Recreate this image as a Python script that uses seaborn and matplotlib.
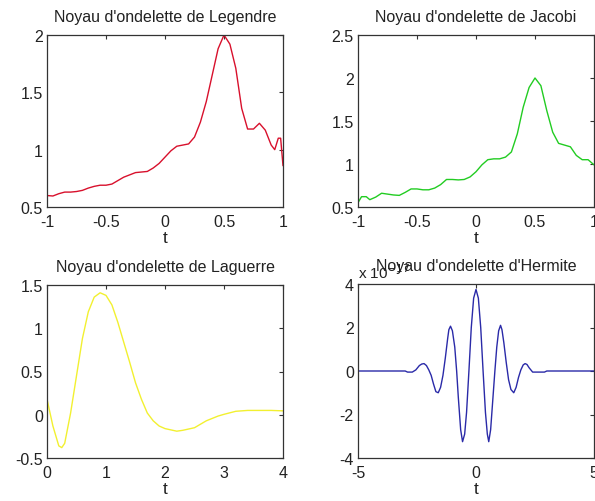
import numpy as np
import matplotlib
matplotlib.use("Agg")
import matplotlib.pyplot as plt
import seaborn as sns
import pandas as pd

sns.set_theme(style="white")
plt.rcParams['font.family'] = ['Liberation Sans', 'DejaVu Sans']

# ---- data ----
leg_t = [-1, -0.95, -0.9, -0.85, -0.8, -0.75, -0.7, -0.65, -0.6, -0.55, -0.5, -0.45, -0.4, -0.35,
         -0.3, -0.25, -0.2, -0.15, -0.1, -0.05, 0, 0.05, 0.1, 0.15, 0.2, 0.25, 0.3, 0.35, 0.4, 0.45,
         0.5, 0.55, 0.6, 0.65, 0.7, 0.75, 0.8, 0.85, 0.9, 0.93, 0.96, 0.98, 1.0]
leg_v = [0.60, 0.596, 0.616, 0.63, 0.63, 0.635, 0.645, 0.665, 0.68, 0.69, 0.69, 0.70, 0.73, 0.76,
         0.78, 0.80, 0.805, 0.81, 0.84, 0.88, 0.935, 0.99, 1.03, 1.04, 1.05, 1.11, 1.24, 1.42, 1.65, 1.88,
         2.0, 1.92, 1.71, 1.36, 1.18, 1.18, 1.23, 1.17, 1.04, 1.00, 1.10, 1.10, 0.86]

jac_t = [-1, -0.97, -0.93, -0.9, -0.85, -0.8, -0.75, -0.7, -0.65, -0.6, -0.55, -0.5, -0.45, -0.4,
         -0.35, -0.3, -0.25, -0.2, -0.15, -0.1, -0.05, 0, 0.05, 0.1, 0.15, 0.2, 0.25, 0.3, 0.35, 0.4,
         0.45, 0.5, 0.55, 0.6, 0.65, 0.7, 0.75, 0.8, 0.85, 0.9, 0.95, 1.0]
jac_v = [0.55, 0.62, 0.62, 0.585, 0.615, 0.66, 0.65, 0.64, 0.635, 0.67, 0.71, 0.71, 0.70, 0.70,
         0.72, 0.76, 0.82, 0.82, 0.815, 0.82, 0.85, 0.91, 0.99, 1.05, 1.06, 1.06, 1.08, 1.14, 1.35, 1.66,
         1.89, 2.0, 1.91, 1.62, 1.37, 1.24, 1.22, 1.20, 1.10, 1.05, 1.05, 0.99]

lag_t = [0, 0.1, 0.2, 0.25, 0.3, 0.4, 0.5, 0.6, 0.7, 0.8, 0.9, 1.0, 1.1, 1.2, 1.3, 1.4, 1.5, 1.6,
         1.7, 1.8, 1.9, 2.0, 2.2, 2.3, 2.5, 2.7, 2.9, 3.0, 3.2, 3.4, 3.6, 3.8, 4.0]
lag_v = [0.18, -0.13, -0.36, -0.38, -0.33, 0.02, 0.45, 0.88, 1.19, 1.36, 1.41, 1.38, 1.27, 1.07,
         0.84, 0.61, 0.37, 0.18, 0.02, -0.07, -0.13, -0.16, -0.19, -0.18, -0.15, -0.07, -0.015, 0.005,
         0.04, 0.05, 0.05, 0.05, 0.045]

# Hermite values in units of 1e-17
her_t = [-5, -3.0, -2.9, -2.7, -2.55, -2.4, -2.3, -2.2, -2.1, -2.0, -1.9, -1.8, -1.7, -1.6, -1.5,
         -1.4, -1.3, -1.2, -1.15, -1.08, -1.0, -0.9, -0.82, -0.75, -0.65, -0.57, -0.48, -0.4, -0.3,
         -0.2, -0.1, 0,
         0.1, 0.2, 0.3, 0.4, 0.48, 0.54, 0.62, 0.72, 0.8, 0.88, 0.96, 1.04, 1.1, 1.18, 1.28, 1.38,
         1.48, 1.6, 1.7, 1.8, 1.9, 2.0, 2.08, 2.16, 2.25, 2.4, 2.55, 2.7, 2.9, 3.0, 5]
her_v = [0, 0, -0.05, -0.05, 0.05, 0.25, 0.32, 0.34, 0.25, 0.05, -0.2, -0.6, -0.95, -1.0, -0.75,
         -0.2, 0.6, 1.5, 1.9, 2.06, 1.85, 1.1, 0.0, -1.2, -2.7, -3.25, -2.9, -1.9, 0.0,
         2.0, 3.35, 3.75,
         3.35, 2.0, 0.0, -1.9, -2.9, -3.25, -2.7, -1.2, 0.0, 1.1, 1.85, 2.1, 1.9, 1.3, 0.4,
         -0.4, -0.85, -1.0, -0.75, -0.3, 0.05, 0.28, 0.34, 0.3, 0.15, -0.05, -0.05, -0.05, -0.05, 0, 0]
her_scale = 1e-17

titles = ["Noyau d'ondelette de Legendre", "Noyau d'ondelette de Jacobi",
          "Noyau d'ondelette de Laguerre", "Noyau d'ondelette d'Hermite"]

W, H = 595, 502
fig = plt.figure(figsize=(W / 100, H / 100), dpi=100)
fig.patch.set_facecolor('white')

def make_ax(l, r, t, b):
    return fig.add_axes([l / W, 1 - b / H, (r - l) / W, (b - t) / H])

axs = [make_ax(47, 283, 36, 208), make_ax(358, 594, 36, 208),
       make_ax(47, 283, 286, 459), make_ax(358, 594, 285, 459)]

dfs = [pd.DataFrame({"t": leg_t, "v": leg_v}),
       pd.DataFrame({"t": jac_t, "v": jac_v}),
       pd.DataFrame({"t": lag_t, "v": lag_v}),
       pd.DataFrame({"t": her_t, "v": np.array(her_v) * her_scale})]
colors = ['#d8102c', '#22cc22', '#f2f030', '#2a2aa8']
xlims = [(-1, 1), (-1, 1), (0, 4), (-5, 5)]
ylims = [(0.5, 2), (0.5, 2.5), (-0.5, 1.5), (-4e-17, 4e-17)]
xticks = [[-1, -0.5, 0, 0.5, 1], [-1, -0.5, 0, 0.5, 1], [0, 1, 2, 3, 4], [-5, 0, 5]]
xticklabels = [["-1", "-0.5", "0", "0.5", "1"], ["-1", "-0.5", "0", "0.5", "1"],
               ["0", "1", "2", "3", "4"], ["-5", "0", "5"]]
yticks = [[0.5, 1, 1.5, 2], [0.5, 1, 1.5, 2, 2.5], [-0.5, 0, 0.5, 1, 1.5],
          [-4e-17, -2e-17, 0, 2e-17, 4e-17]]
yticklabels = [["0.5", "1", "1.5", "2"], ["0.5", "1", "1.5", "2", "2.5"],
               ["-0.5", "0", "0.5", "1", "1.5"], ["-4", "-2", "0", "2", "4"]]

for ax, df, c, tl, xl, yl, xt, xtl, yt, ytl in zip(axs, dfs, colors, titles, xlims, ylims,
                                                    xticks, xticklabels, yticks, yticklabels):
    sns.lineplot(data=df, x="t", y="v", ax=ax, color=c, linewidth=1.0)
    ax.set_xlim(*xl)
    ax.set_ylim(*yl)
    ax.set_xticks(xt)
    ax.set_xticklabels(xtl)
    ax.set_yticks(yt)
    ax.set_yticklabels(ytl)
    ax.set_xlabel("t", fontsize=12.5, color='#222222', labelpad=1)
    ax.set_ylabel("")
    ax.set_title(tl, fontsize=11.5, color='#222222', pad=10)
    ax.tick_params(direction='in', length=3, width=0.8, colors='#333333',
                   labelsize=11.5, labelcolor='#222222', top=True, right=True)
    ax.tick_params(axis='x', pad=5)
    ax.tick_params(axis='y', pad=3)
    for s in ax.spines.values():
        s.set_visible(True)
        s.set_color('#333333')
        s.set_linewidth(0.9)
    ax.set_facecolor('white')

axs[3].text(0.0, 1.02, "x 10$^{-17}$", transform=axs[3].transAxes, fontsize=11,
            color='#222222', ha='left', va='bottom')

fig.savefig("out.png", dpi=100, facecolor='white')
